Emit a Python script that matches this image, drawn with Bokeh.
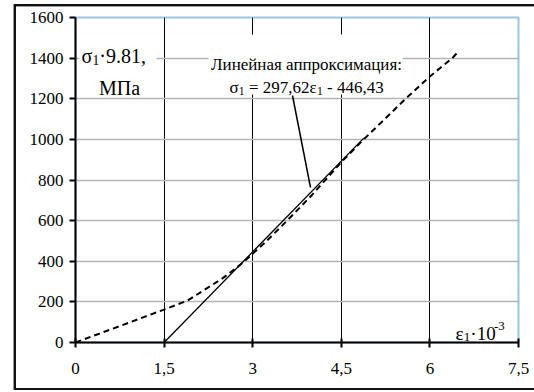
from bokeh.plotting import figure
from bokeh.models import Range1d, Label, BoxAnnotation, FixedTicker, InlineStyleSheet
from bokeh.embed import file_html
from bokeh.resources import INLINE

# ---- data ----
curve_eps = [0, 1.5, 1.9, 2.5, 2.8, 3.2, 3.6, 4.0, 4.5, 4.88, 5.59, 6.0, 6.38, 6.48]
curve_sig = [0, 162, 207, 318, 385, 490, 605, 725, 888, 1000, 1200, 1310, 1400, 1432]
lin_eps = [1.5, 4.88]
lin_sig = [0, 1006]
x_ticks = [0, 1.5, 3, 4.5, 6, 7.5]
x_tick_labels = ["0", "1,5", "3", "4,5", "6", "7,5"]
y_ticks = [0, 200, 400, 600, 800, 1000, 1200, 1400, 1600]

W, H = 534, 392
FL, FR, FT, FB = 75, 518, 17, 342
X0, X1, Y0, Y1 = 0, 7.5, 0, 1600
FONT = "Liberation Serif"

def dx(px):
    return X0 + (px - FL) / (FR - FL) * (X1 - X0)

def dy(py):
    return Y0 + (FB - py) / (FB - FT) * (Y1 - Y0)

p = figure(width=W, height=H, output_backend="svg", toolbar_location=None,
           x_range=Range1d(X0, X1), y_range=Range1d(Y0, Y1),
           min_border_left=FL, min_border_right=W - FR,
           min_border_top=FT, min_border_bottom=H - FB)
p.background_fill_color = "white"
p.border_fill_color = "white"
p.outline_line_color = "#9dc3e6"
p.outline_line_width = 2

# grid
p.xgrid.ticker = FixedTicker(ticks=x_ticks)
p.ygrid.ticker = FixedTicker(ticks=y_ticks)
p.xgrid.grid_line_color = "black"
p.xgrid.grid_line_width = 1
p.ygrid.grid_line_color = "#b4b4b4"
p.ygrid.grid_line_width = 1.5

# axes
for ax in (p.xaxis[0], p.yaxis[0]):
    ax.axis_line_color = "black"
    ax.axis_line_width = 2
    ax.major_tick_line_color = "black"
    ax.major_tick_line_width = 2
    ax.minor_tick_line_color = None
    ax.major_label_text_font = FONT
    ax.major_label_text_font_size = "17px"
    ax.major_label_text_color = "black"
p.xaxis.ticker = FixedTicker(ticks=x_ticks)
p.xaxis.major_label_overrides = {t: l for t, l in zip(x_ticks, x_tick_labels)}
p.xaxis.major_tick_out = 5
p.xaxis.major_tick_in = 4
p.xaxis.major_label_standoff = 15
p.yaxis.ticker = FixedTicker(ticks=y_ticks)
p.yaxis.major_tick_out = 6
p.yaxis.major_tick_in = 0
p.yaxis.major_label_standoff = 6

# lines
p.line(lin_eps, lin_sig, line_color="black", line_width=1.3)
p.line(curve_eps, curve_sig, line_color="black", line_width=2, line_dash="6 4")

# white backgrounds for text blocks
for (l, r, t, b) in [(79, 156, 31, 93), (208, 402, 34, 94)]:
    p.add_layout(BoxAnnotation(left=dx(l), right=dx(r), top=dy(t), bottom=dy(b),
                               fill_color="white", fill_alpha=1, line_color=None))

# leader line
p.segment(x0=[dx(292)], y0=[dy(95)], x1=[dx(310)], y1=[dy(187)], line_color="black", line_width=1.5)

WID = {"σ": 0.55, "ε": 0.44, "·": 0.25, ".": 0.25, ",": 0.25, " ": 0.25,
       "=": 0.564, "-": 0.333}

def tw(s, size):
    return sum(WID.get(c, 0.5) for c in s) * size

def rich(pieces, x0, base, size):
    x = x0
    for txt, kind in pieces:
        if kind == "n":
            fs, b = size, base
        elif kind == "sub":
            fs, b = size * 0.68, base + 0.2 * size
        else:
            fs, b = size * 0.68, base - 0.38 * size
        lead = len(txt) - len(txt.lstrip(" "))
        trail = len(txt) - len(txt.rstrip(" "))
        core = txt.strip(" ")
        x += lead * WID[" "] * fs
        p.add_layout(Label(x=dx(x), y=dy(b), text=core, text_font=FONT,
                           text_font_size=f"{fs:.1f}px", text_color="black",
                           text_align="left", text_baseline="alphabetic"))
        x += tw(core, fs) + (trail * WID[" "] * fs if core else 0)

# y-axis title
rich([("σ", "n"), ("1", "sub"), ("·9.81,", "n")], 81, 55, 20)
p.add_layout(Label(x=dx(119), y=dy(87), text="МПа", text_font=FONT, text_font_size="20px",
                   text_align="center", text_baseline="alphabetic", text_color="black"))

# annotation
p.add_layout(Label(x=dx(306), y=dy(64), text="Линейная аппроксимация:", text_font=FONT,
                   text_font_size="17px", text_align="center", text_baseline="alphabetic",
                   text_color="black"))
rich([("σ", "n"), ("1", "sub"), (" = 297,62ε", "n"), ("1", "sub"), (" - 446,43", "n")], 229, 87, 17)

# x-axis title
rich([("ε", "n"), ("1", "sub"), ("·10", "n"), ("-3", "sup")], 455, 333, 19)

# outer frame of the chart area (drawn with CSS on the figure host)
p.stylesheets = [InlineStyleSheet(css=(
    ":host { position: relative; }"
    ":host::after { content: ''; position: absolute; left: 14px; top: 4px;"
    " width: 560px; height: 386px; border: 2px solid #111; box-sizing: border-box;"
    " box-shadow: -1px 0 0 #999, inset 0 1px 0 #999; pointer-events: none; }"
))]

open("out.html", "w").write(file_html(p, INLINE))
